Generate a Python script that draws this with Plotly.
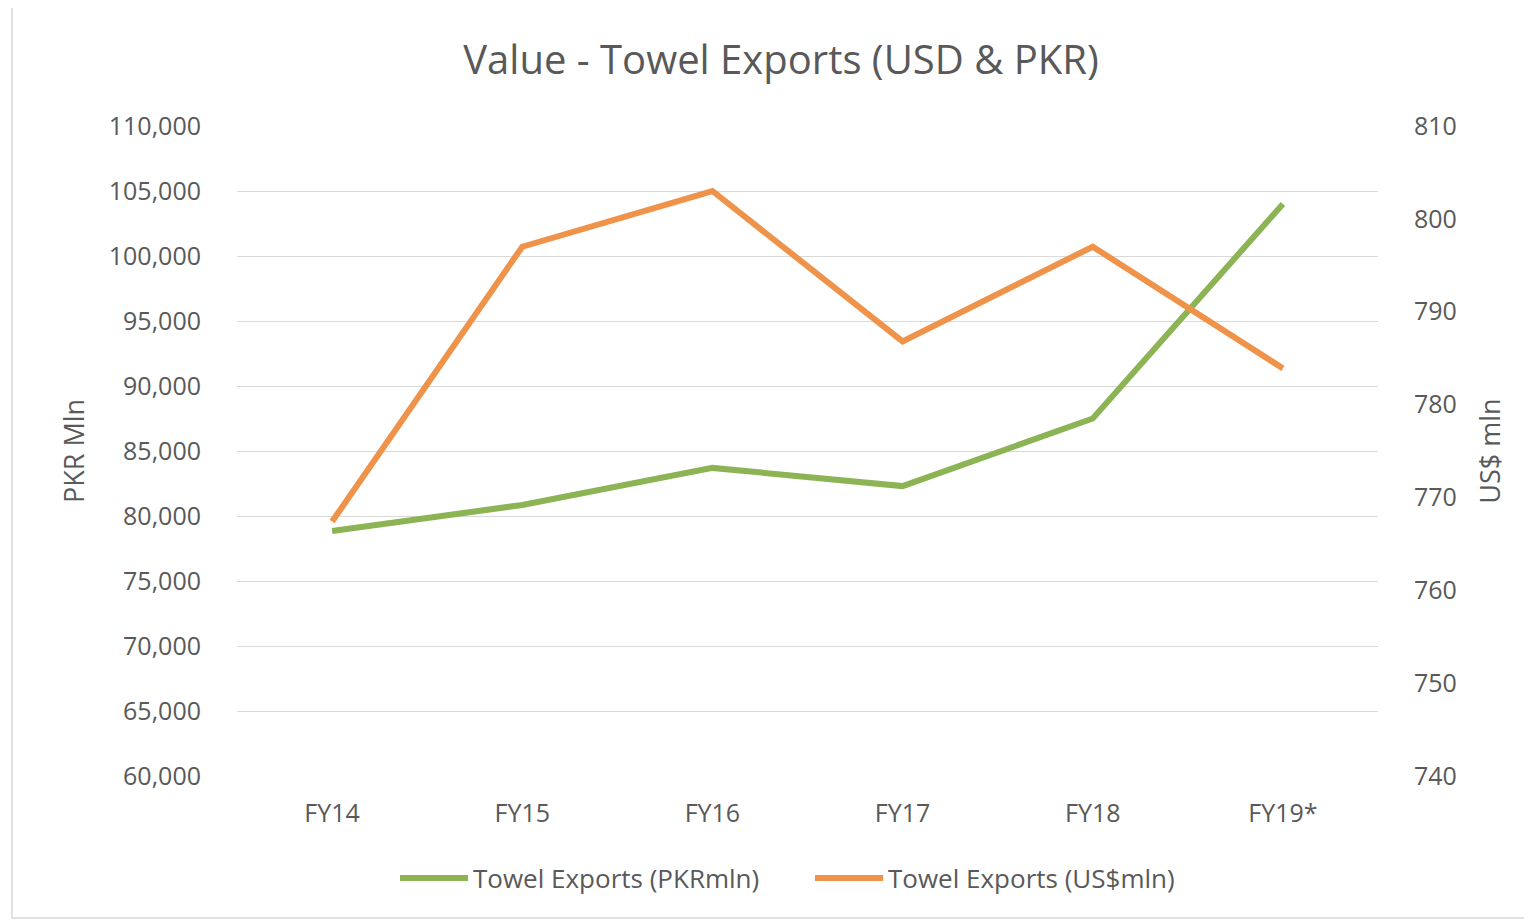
import plotly.graph_objects as go

categories = ["FY14", "FY15", "FY16", "FY17", "FY18", "FY19*"]
pkr_mln = [78850, 80850, 83700, 82300, 87500, 104000]
usd_mln = [767.4, 797.0, 803.0, 786.8, 797.0, 783.9]

left_ticks = list(range(60000, 110001, 5000))
right_ticks = list(range(740, 811, 10))

GREEN = "#8CB454"
ORANGE = "#F0934A"
TXT = "#595959"
FONT = "Open Sans"

OFF = 8  # page body margin
W, H = 1532 - OFF, 922 - OFF
# plot area in page pixels
PL, PR, PT, PB = 237, 1378, 126, 776
L, R, T, B = PL - OFF, PR - OFF, PT - OFF, PB - OFF
pw, ph = R - L, B - T


def px2x(px):
    return (px - OFF - L) / pw


def px2y(py):
    return (B - (py - OFF)) / ph


fig = go.Figure()
fig.add_trace(go.Scatter(x=categories, y=pkr_mln, name="Towel Exports (PKRmln)",
                         mode="lines", line=dict(color=GREEN, width=6), yaxis="y"))
fig.add_trace(go.Scatter(x=categories, y=usd_mln, name="Towel Exports (US$mln)",
                         mode="lines", line=dict(color=ORANGE, width=6), yaxis="y2"))

fig.update_layout(
    width=W, height=H,
    margin=dict(l=L, r=W - R, t=T, b=H - B, autoexpand=False),
    paper_bgcolor="white", plot_bgcolor="white",
    font=dict(family=FONT, color=TXT, size=22),
    title=dict(text="Value - Towel Exports (USD & PKR)", x=px2x(781), xanchor="center", xref="paper",
               y=1 - (60 - OFF) / H, yanchor="middle", yref="container",
               font=dict(size=40, color=TXT, family=FONT)),
    xaxis=dict(type="category", range=[-0.5, 5.5], showgrid=False, zeroline=False,
               showline=False, ticks="outside", ticklen=15, tickcolor="rgba(0,0,0,0)",
               tickfont=dict(size=25, color=TXT)),
    yaxis=dict(range=[60000, 110000], tickvals=left_ticks, tickformat=",d",
               showgrid=True, gridcolor="#D9D9D9", gridwidth=1, zeroline=False, showline=False,
               ticks="outside", ticklen=30, tickcolor="rgba(0,0,0,0)",
               tickfont=dict(size=25, color=TXT),
               title=dict(text="PKR Mln", standoff=16, font=dict(size=27, color=TXT))),
    yaxis2=dict(range=[740, 810], tickvals=right_ticks, overlaying="y", side="right",
                showgrid=False, zeroline=False, showline=False,
                ticks="outside", ticklen=30, tickcolor="rgba(0,0,0,0)",
                tickfont=dict(size=25, color=TXT),
                title=dict(text="US$ mln", standoff=25, font=dict(size=27, color=TXT))),
    legend=dict(orientation="h", x=px2x(395), xanchor="left", y=px2y(878), yanchor="middle",
                font=dict(size=26, color=TXT), bgcolor="rgba(0,0,0,0)", itemwidth=68,
                entrywidth=332, entrywidthmode="pixels"),
    showlegend=True,
    shapes=[dict(type="rect", xref="paper", yref="paper",
                 x0=px2x(12), x1=px2x(1529), y0=px2y(918), y1=px2y(6),
                 line=dict(color="#D9D9D9", width=1.5), fillcolor="rgba(0,0,0,0)", layer="below")],
)

fig.write_html("out.html")
